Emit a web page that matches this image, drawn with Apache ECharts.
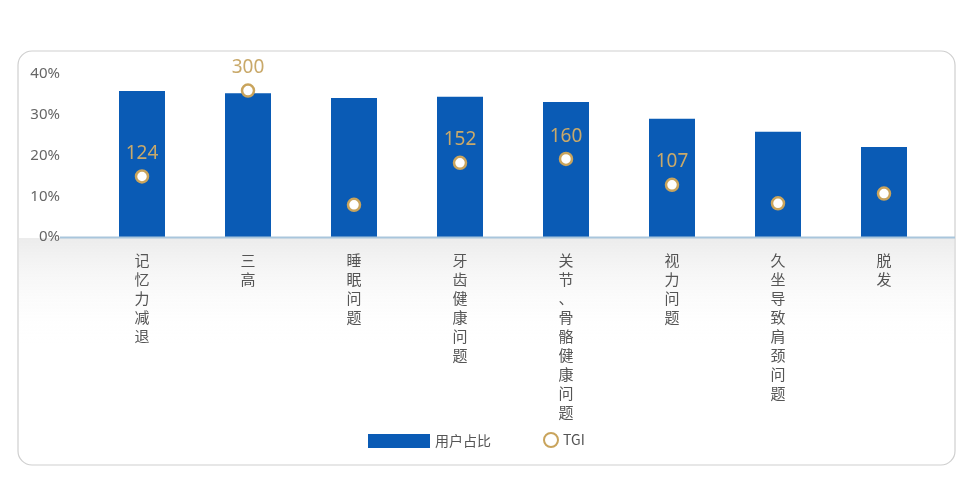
<!DOCTYPE html>
<html>
<head>
<meta charset="utf-8">
<script src="https://cdn.jsdelivr.net/npm/echarts@6/dist/echarts.min.js"></script>
<style>
html, body { margin: 0; padding: 0; background: #fff; }
#chart { width: 976px; height: 483px; }
</style>
</head>
<body>
<div id="chart"></div>
<script>
// 类目与数据
const categories = ["记忆力减退", "三高", "睡眠问题", "牙齿健康问题", "关节、骨骼健康问题", "视力问题", "久坐导致肩颈问题", "脱发"];
const shareValues = [35.8, 35.3, 34.1, 34.4, 33.1, 29.0, 25.8, 22.1];
const tgiValues = [124, 300, 66, 152, 160, 107, 69, 89];
const tgiShown = [true, true, false, true, true, true, false, false];
const yTicks = [0, 10, 20, 30, 40];

let chart = echarts.init(document.getElementById("chart"));

const legendText = { color: '#555', fontSize: 14, fontFamily: 'Noto Sans CJK SC' };

let option = {
    animation: false,
    graphic: [
        { type: 'rect', shape: { x: 18, y: 51, width: 937, height: 414, r: 14 }, style: { fill: 'none', stroke: '#cfcfcf', lineWidth: 1.2 }, z: -2 },
        { type: 'rect', shape: { x: 19, y: 238, width: 935, height: 110 },
          style: { fill: new echarts.graphic.LinearGradient(0, 0, 0, 1, [{ offset: 0, color: '#ececec' }, { offset: 1, color: 'rgba(255,255,255,0)' }]) }, z: -1 },
        { type: 'line', shape: { x1: 60, y1: 237.5, x2: 955, y2: 237.5 }, style: { stroke: '#a9c6dc', lineWidth: 2 }, z: 10 }
    ],
    legend: [
        { left: 363, bottom: 30, itemWidth: 62, itemHeight: 14, textStyle: legendText, data: [{ name: '用户占比', icon: 'rect' }] },
        { left: 538, bottom: 30, itemWidth: 14, itemHeight: 14, textStyle: legendText,
          data: [{ name: 'TGI', icon: 'circle', itemStyle: { color: '#fff', borderColor: '#c9a45c', borderWidth: 2 } }] }
    ],
    grid: { left: 89, right: 39, top: 74, bottom: 246 },
    xAxis: {
        type: 'category', data: categories,
        axisLine: { show: false }, axisTick: { show: false },
        axisLabel: {
            interval: 0, margin: 14, color: '#555', fontSize: 15, lineHeight: 19,
            fontFamily: 'Noto Sans CJK SC', verticalAlign: 'top',
            formatter: v => v.split('').join('\n')
        }
    },
    yAxis: [
        {
            type: 'value', min: 0, max: 40, interval: 10,
            splitLine: { show: false }, axisLine: { show: false }, axisTick: { show: false },
            axisLabel: { margin: 29, color: '#666', fontSize: 15, fontFamily: 'Noto Sans', formatter: v => yTicks.includes(v) ? v + '%' : '' }
        },
        { type: 'value', min: 0, max: 334, show: false }
    ],
    series: [
        {
            name: '用户占比', type: 'bar', data: shareValues, barWidth: 46,
            itemStyle: { color: '#0a5bb5' }
        },
        {
            name: 'TGI', type: 'scatter', yAxisIndex: 1, symbol: 'circle', symbolSize: 12,
            itemStyle: { color: '#fff', borderColor: '#c9a45c', borderWidth: 2.5, opacity: 1 },
            data: tgiValues.map((v, i) => ({
                value: v,
                label: { show: tgiShown[i], position: 'top', distance: 6, color: '#c9a96a', fontSize: 19, fontFamily: 'Noto Sans' }
            })),
            z: 5
        }
    ]
};

chart.setOption(option);
</script>
</body>
</html>
